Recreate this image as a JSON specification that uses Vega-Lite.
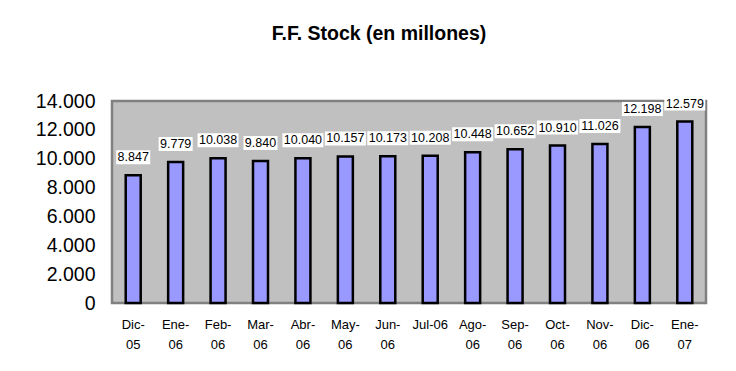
{
  "$schema": "https://vega.github.io/schema/vega-lite/v6.json",
  "autosize": {"type": "none"},
  "width": 594,
  "height": 202,
  "padding": {"left": 112, "top": 101, "right": 30, "bottom": 68},
  "background": "white",
  "config": {
    "locale": {"number": {"decimal": ",", "thousands": ".", "grouping": [3], "currency": ["", ""]}},
    "font": "Liberation Sans",
    "view": {"fill": "#c0c0c0", "stroke": "#808080", "strokeWidth": 2.5}
  },
  "title": {
    "text": "F.F. Stock (en millones)",
    "font": "Liberation Sans",
    "fontSize": 19.5,
    "fontWeight": "bold",
    "color": "black",
    "anchor": "middle",
    "dx": -30,
    "offset": 32,
    "baseline": "alphabetic"
  },
  "data": {
    "values": [
      {"mes": "Dic-05", "stock": 8847},
      {"mes": "Ene-06", "stock": 9779},
      {"mes": "Feb-06", "stock": 10038},
      {"mes": "Mar-06", "stock": 9840},
      {"mes": "Abr-06", "stock": 10040},
      {"mes": "May-06", "stock": 10157},
      {"mes": "Jun-06", "stock": 10173},
      {"mes": "Jul-06", "stock": 10208},
      {"mes": "Ago-06", "stock": 10448},
      {"mes": "Sep-06", "stock": 10652},
      {"mes": "Oct-06", "stock": 10910},
      {"mes": "Nov-06", "stock": 11026},
      {"mes": "Dic-06", "stock": 12198},
      {"mes": "Ene-07", "stock": 12579}
    ]
  },
  "encoding": {
    "x": {
      "field": "mes",
      "type": "nominal",
      "sort": null,
      "scale": {"paddingInner": 0, "paddingOuter": 0},
      "axis": {
        "title": null,
        "ticks": false,
        "domain": false,
        "labelAngle": 0,
        "labelFont": "Liberation Sans",
        "labelFontSize": 13,
        "labelColor": "black",
        "labelPadding": 15,
        "labelBaseline": "top",
        "labelLineHeight": 20,
        "labelExpr": "datum.value == 'Jul-06' ? datum.value : [substring(datum.value, 0, 4), substring(datum.value, 4)]"
      }
    },
    "y": {
      "field": "stock",
      "type": "quantitative",
      "scale": {"domain": [0, 14000], "nice": false},
      "axis": {
        "title": null,
        "values": [0, 2000, 4000, 6000, 8000, 10000, 12000, 14000],
        "format": ",d",
        "grid": false,
        "ticks": false,
        "domain": false,
        "labelFont": "Liberation Sans",
        "labelFontSize": 19.5,
        "labelColor": "black",
        "labelPadding": 17
      }
    }
  },
  "layer": [
    {
      "mark": {"type": "bar", "width": 15, "fill": "#9999ff", "stroke": "black", "strokeWidth": 2.5}
    },
    {
      "mark": {"type": "tick", "color": "white", "opacity": 1, "thickness": 14, "yOffset": -18},
      "encoding": {
        "size": {"condition": {"test": "datum.stock >= 10000", "value": 41}, "value": 34}
      }
    },
    {
      "mark": {"type": "text", "font": "Liberation Sans", "fontSize": 12.5, "color": "black", "baseline": "alphabetic", "dy": -14},
      "encoding": {
        "text": {"field": "stock", "type": "quantitative", "format": ",d"}
      }
    }
  ]
}
